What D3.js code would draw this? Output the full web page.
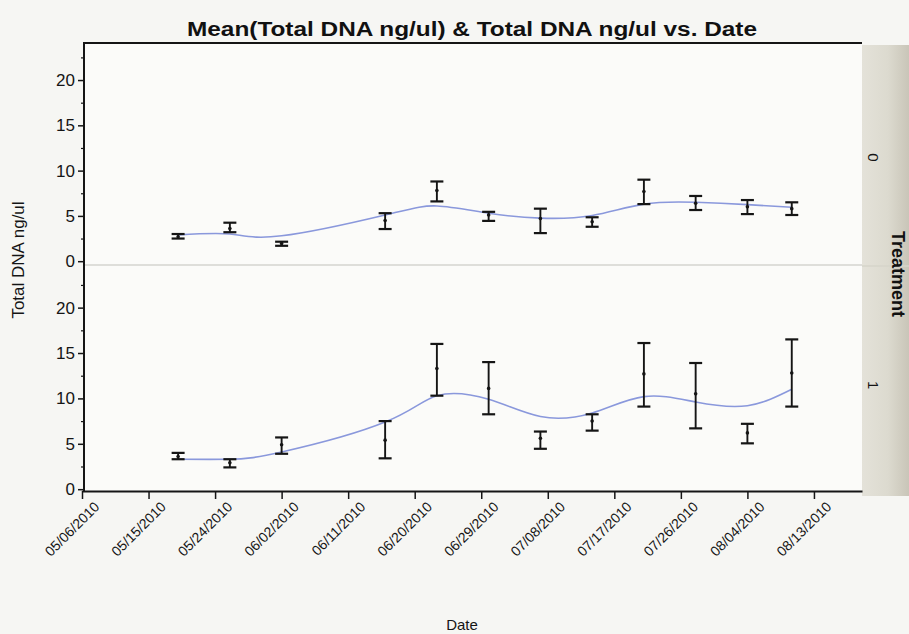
<!DOCTYPE html>
<html>
<head>
<meta charset="utf-8">
<script src="https://cdn.jsdelivr.net/npm/d3@7"></script>
<style>
  body { margin: 0; background: #f6f6f3; }
  svg { display: block; }
</style>
</head>
<body>
<div id="chart"></div>
<script>
// dati
const dates = ["2010-05-19", "2010-05-26", "2010-06-02", "2010-06-16", "2010-06-23", "2010-06-30",
               "2010-07-07", "2010-07-14", "2010-07-21", "2010-07-28", "2010-08-04", "2010-08-10"];

// Treatment 0
const mean0 = [2.7, 3.6, 1.95, 4.5, 7.8, 5.1, 4.7, 4.35, 7.7, 6.4, 6.0, 5.8];
const low0  = [2.5, 3.2, 1.7, 3.55, 6.6, 4.45, 3.1, 3.8, 6.3, 5.65, 5.2, 5.1];
const high0 = [3.0, 4.25, 2.15, 5.3, 8.8, 5.45, 5.8, 4.85, 9.0, 7.2, 6.75, 6.5];
const fit0  = [2.9, 3.0, 2.8, 5.1, 6.1, 5.3, 4.75, 5.05, 6.3, 6.5, 6.25, 5.95];

// Treatment 1
const mean1 = [3.6, 2.9, 4.9, 5.4, 13.3, 11.1, 5.6, 7.5, 12.7, 10.5, 6.2, 12.8];
const low1  = [3.3, 2.4, 3.9, 3.4, 10.3, 8.25, 4.45, 6.45, 9.1, 6.7, 5.05, 9.1];
const high1 = [4.0, 3.3, 5.7, 7.5, 16.0, 14.0, 6.35, 8.25, 16.1, 13.9, 7.2, 16.5];
const fit1  = [3.3, 3.3, 4.1, 7.4, 10.3, 9.9, 8.0, 8.4, 10.2, 9.6, 9.2, 11.0];

const treatments = ["0", "1"];
const xTickLabels = ["05/06/2010", "05/15/2010", "05/24/2010", "06/02/2010", "06/11/2010", "06/20/2010",
                     "06/29/2010", "07/08/2010", "07/17/2010", "07/26/2010", "08/04/2010", "08/13/2010"];
const yTicks = [0, 5, 10, 15, 20];
const yMinorTicks = [2.5, 7.5, 12.5, 17.5, 22.5];

const title = "Mean(Total DNA ng/ul) & Total DNA ng/ul vs. Date";
const yTitle = "Total DNA ng/ul";
const xTitle = "Date";
const stripTitle = "Treatment";

// dimensioni (nomi non globali: "top" è riservato da window)
var width = 909, height = 634;
var plotL = 84, plotR = 862, plotT = 43, plotB = 491;
var panels = [{t: 42, b: 263}, {t: 269.5, b: 491}];

var parseDay = d3.timeParse("%Y-%m-%d");
var parseTick = d3.timeParse("%m/%d/%Y");

var svg = d3.select("#chart").append("svg")
  .attr("width", width)
  .attr("height", height)
  .style("font-family", "Arial, 'Liberation Sans', sans-serif");

svg.append("rect").attr("width", width).attr("height", height).attr("fill", "#f6f6f3");

// area del grafico
svg.append("rect")
  .attr("x", plotL).attr("y", plotT)
  .attr("width", plotR - plotL).attr("height", plotB - plotT)
  .attr("fill", "#fbfbf9");

// striscia a destra
var grad = svg.append("defs").append("linearGradient").attr("id", "strip")
  .attr("x1", "0").attr("x2", "1").attr("y1", "0").attr("y2", "0");
grad.append("stop").attr("offset", "0").attr("stop-color", "#e4e2d9");
grad.append("stop").attr("offset", "0.55").attr("stop-color", "#dcdacf");
grad.append("stop").attr("offset", "1").attr("stop-color", "#c9c5b8");
svg.append("rect")
  .attr("x", plotR).attr("y", plotT + 2)
  .attr("width", width - plotR).attr("height", plotB - plotT + 3)
  .attr("fill", "url(#strip)");
svg.append("line")
  .attr("x1", plotR).attr("x2", width)
  .attr("y1", 266).attr("y2", 266)
  .attr("stroke", "#d6d4ca").attr("stroke-width", 1.5);

// scala x
var x = d3.scaleTime()
  .domain([parseTick("05/06/2010"), new Date(2010, 7, 19, 12)])
  .range([plotL - 2, plotR]);

var xTickValues = xTickLabels.map(parseTick);

var rows = [
  {mean: mean0, low: low0, high: high0, fit: fit0},
  {mean: mean1, low: low1, high: high1, fit: fit1}
];

rows.forEach(function (row, i) {
  var p = panels[i];
  var y = d3.scaleLinear().domain([-0.2, 24.2]).range([p.b, p.t]);
  var g = svg.append("g");

  var pts = dates.map(function (d, k) {
    return {date: parseDay(d), mean: row.mean[k], low: row.low[k], high: row.high[k], fit: row.fit[k]};
  });

  // linea di separazione tra i pannelli
  if (i === 0) {
    g.append("line")
      .attr("x1", plotL).attr("x2", plotR)
      .attr("y1", p.b + 2).attr("y2", p.b + 2)
      .attr("stroke", "#dededa").attr("stroke-width", 2);
  }

  // curva di lisciamento
  g.append("path")
    .datum(pts)
    .attr("fill", "none")
    .attr("stroke", "#8a98dc")
    .attr("stroke-width", 1.6)
    .attr("d", d3.line()
      .x(d => x(d.date))
      .y(d => y(d.fit))
      .curve(d3.curveNatural));

  // barre di errore
  var bars = g.selectAll(".bar").data(pts).enter().append("g");
  bars.append("line")
    .attr("x1", d => x(d.date)).attr("x2", d => x(d.date))
    .attr("y1", d => y(d.low)).attr("y2", d => y(d.high))
    .attr("stroke", "#151515").attr("stroke-width", 1.9);
  bars.append("line")
    .attr("x1", d => x(d.date) - 6.5).attr("x2", d => x(d.date) + 6.5)
    .attr("y1", d => y(d.low)).attr("y2", d => y(d.low))
    .attr("stroke", "#151515").attr("stroke-width", 2.2);
  bars.append("line")
    .attr("x1", d => x(d.date) - 6.5).attr("x2", d => x(d.date) + 6.5)
    .attr("y1", d => y(d.high)).attr("y2", d => y(d.high))
    .attr("stroke", "#151515").attr("stroke-width", 2.2);
  bars.append("circle")
    .attr("cx", d => x(d.date)).attr("cy", d => y(d.mean))
    .attr("r", 1.8).attr("fill", "#151515");

  // asse y
  var yAxis = svg.append("g")
    .attr("transform", `translate(${plotL},0)`)
    .call(d3.axisLeft(y).tickValues(yTicks).tickSize(6).tickPadding(3).tickSizeOuter(0));
  yAxis.select(".domain").remove();
  yAxis.selectAll("text").style("font-size", "17px").attr("fill", "#151515");
  yAxis.selectAll("line").attr("stroke", "#151515").attr("stroke-width", 1.5);
  svg.append("g")
    .attr("transform", `translate(${plotL},0)`)
    .call(d3.axisLeft(y).tickValues(yMinorTicks).tickSize(3).tickFormat(""))
    .call(a => a.select(".domain").remove())
    .selectAll("line").attr("stroke", "#151515").attr("stroke-width", 1.2);

  // etichetta della striscia
  svg.append("text")
    .attr("transform", `translate(868,${(p.t + p.b) / 2 + 5}) rotate(90)`)
    .attr("text-anchor", "middle")
    .style("font-size", "15px")
    .attr("fill", "#151515")
    .text(treatments[i]);
});

// linea dell'asse y
svg.append("line")
  .attr("x1", plotL).attr("x2", plotL)
  .attr("y1", plotT - 1).attr("y2", plotB)
  .attr("stroke", "#151515").attr("stroke-width", 2);

// bordo superiore
svg.append("line")
  .attr("x1", plotL).attr("x2", plotR)
  .attr("y1", plotT).attr("y2", plotT)
  .attr("stroke", "#151515").attr("stroke-width", 1.8);

// asse x
var xAxis = svg.append("g")
  .attr("transform", `translate(0,${plotB})`)
  .call(d3.axisBottom(x).tickValues(xTickValues).tickSize(8).tickSizeOuter(0)
    .tickFormat(d3.timeFormat("%m/%d/%Y")));
xAxis.select(".domain").attr("stroke", "#151515").attr("stroke-width", 2);
xAxis.selectAll("line").attr("stroke", "#151515").attr("stroke-width", 1.5);
xAxis.selectAll("text")
  .style("font-size", "14px")
  .attr("fill", "#151515")
  .attr("text-anchor", "end")
  .attr("dy", "0.6em")
  .attr("transform", "translate(4,3) rotate(-45)");

// titoli
svg.append("text")
  .attr("x", 472).attr("y", 36)
  .attr("text-anchor", "middle")
  .attr("textLength", 570)
  .attr("lengthAdjust", "spacingAndGlyphs")
  .style("font-family", "'Liberation Sans Narrow', 'Arial Narrow', Arial, sans-serif")
  .style("font-weight", "bold")
  .style("font-size", "20px")
  .attr("fill", "#111")
  .text(title);

svg.append("text")
  .attr("transform", "translate(24,260) rotate(-90)")
  .attr("text-anchor", "middle")
  .style("font-size", "17px")
  .attr("fill", "#151515")
  .text(yTitle);

svg.append("text")
  .attr("x", 462).attr("y", 630)
  .attr("text-anchor", "middle")
  .style("font-size", "15px")
  .attr("fill", "#151515")
  .text(xTitle);

svg.append("text")
  .attr("transform", "translate(892,274) rotate(90)")
  .attr("text-anchor", "middle")
  .style("font-size", "18px")
  .style("font-weight", "bold")
  .attr("fill", "#111")
  .text(stripTitle);
</script>
</body>
</html>
